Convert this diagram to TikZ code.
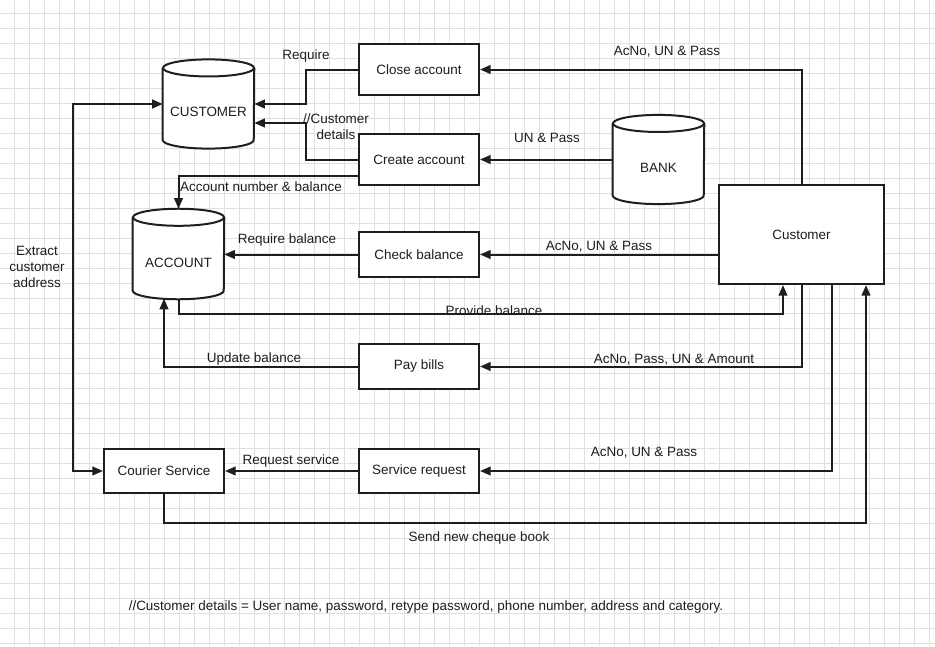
\documentclass[tikz,border=0pt]{standalone}
\usepackage{fontspec}
\setmainfont{Liberation Sans}
\usetikzlibrary{arrows.meta,calc}
\definecolor{gridc}{HTML}{E0E0E0}
\definecolor{ink}{HTML}{1E1E1E}
\tikzset{
  lw/.style={line width=1.5pt, draw=ink},
  procbox/.style={lw, rectangle, fill=white, inner sep=0pt, minimum width=90pt, font=\fontsize{10.1}{12}\selectfont, text=ink},
  cylnode/.style={rectangle, inner sep=0pt, minimum width=68.25pt, minimum height=66.5pt, font=\fontsize{10.1}{12}\selectfont, text=ink},
  lbl/.style={inner sep=0pt, yshift=-1.5pt, font=\fontsize{10.1}{12}\selectfont, text=ink},
  conn/.style={lw, -{Triangle[length=8pt,width=6.5pt]}},
  conn2/.style={lw, {Triangle[length=8pt,width=6.5pt]}-{Triangle[length=8pt,width=6.5pt]}},
}
\newcommand\mycyl[1]{%
  \draw[lw,fill=white] ([yshift=-6.4pt]#1.north west) -- ([yshift=6.4pt]#1.south west)
     arc[start angle=180, end angle=360, x radius=34.125pt, y radius=6.4pt]
     -- ([yshift=-6.4pt]#1.north east);
  \draw[lw,fill=white] ([yshift=-6.4pt]#1.north) ellipse[x radius=34.125pt, y radius=6.4pt];
}
\begin{document}
\begin{tikzpicture}[x=0.75pt,y=-0.75pt]
\useasboundingbox (0,0) rectangle (935,646);
\fill[white] (0,0) rectangle (935,646);
\foreach \gx in {14,29,...,929} \draw[gridc, line width=0.5pt] (\gx,0) -- (\gx,646);
\foreach \gy in {13,28,...,643} \draw[gridc, line width=0.5pt] (0,\gy) -- (935,\gy);

% process boxes
\node[procbox, minimum height=38.25pt] (close) at (419,69.5) {Close account};
\node[procbox, minimum height=38.25pt] (create) at (419,159.5) {Create account};
\node[procbox, minimum height=33.75pt] (chk) at (419,254.5) {Check balance};
\node[procbox, minimum height=33.75pt] (pay) at (419,366.5) {Pay bills};
\node[procbox, minimum height=33pt] (srv) at (419,471) {Service request};
\node[procbox, minimum height=33pt] (courier) at (164,471) {Courier Service};
\node[procbox, minimum width=123.75pt, minimum height=74.25pt] (custbox) at (801.5,234.5) {Customer};

% cylinders
\node[cylnode] (cust) at (208.5,104) {};
\node[cylnode] (bank) at (658.5,159.5) {};
\node[cylnode, minimum height=67.5pt] (acct) at (178.5,254) {};
\mycyl{cust}
\mycyl{bank}
\mycyl{acct}
\node[lbl] (custt) at (208.5,110) {CUSTOMER};
\node[lbl] (bankt) at (658.5,166) {BANK};
\node[lbl] (acctt) at (178.5,261) {ACCOUNT};

% connectors
\draw[conn] (close.west) -- (306,69.5) |- (cust.east);
\draw[conn] (create.west) -- (306,159.5) |- (cust.east |- 0,123);
\draw[conn] (create.west |- 0,176) -| (acct.north);
\draw[conn] (bank.west) -- (create.east);
\draw[conn] (custbox.north) |- (close.east);
\draw[conn] (custbox.west |- chk.east) -- (chk.east);
\draw[conn] (chk.west) -- (acct.east |- chk.west);
\draw[conn] (acct.south) |- (783,314) -- (custbox.south -| 783,0);
\draw[conn] (custbox.south) |- (pay.east);
\draw[conn] (pay.west) -| ([yshift=0.5pt]acct.south -| 164,0);
\draw[conn] (custbox.south -| 832,0) |- (srv.east);
\draw[conn] (srv.west) -- (courier.east);
\draw[conn] (courier.south) |- (866,523) -- (custbox.south -| 866,0);
\draw[conn2] (cust.west) -- (73,104) -- (73,471) -- (courier.west);

% labels
\node[lbl] (l1) at (306,54) {Require};
\node[lbl, align=center] (l2) at (336,125) {//Customer\\details};
\node[lbl] (l3) at (261,185) {Account number \& balance};
\node[lbl] (l4) at (547,136) {UN \& Pass};
\node[lbl] (l5) at (667,50) {AcNo, UN \& Pass};
\node[lbl] (l6) at (599,245) {AcNo, UN \& Pass};
\node[lbl] (l7) at (287,238) {Require balance};
\node[lbl] (l8) at (494,309) {Provide balance};
\node[lbl] (l9) at (674,358) {AcNo, Pass, UN \& Amount};
\node[lbl] (l10) at (254,357) {Update balance};
\node[lbl] (l11) at (644,451) {AcNo, UN \& Pass};
\node[lbl] (l12) at (291,459) {Request service};
\node[lbl] (l13) at (479,536) {Send new cheque book};
\node[lbl, align=center] (l14) at (37,265) {Extract\\customer\\address};
\node[lbl] (note) at (426,605) {//Customer details = User name, password, retype password, phone number, address and category.};
\end{tikzpicture}
\end{document}
